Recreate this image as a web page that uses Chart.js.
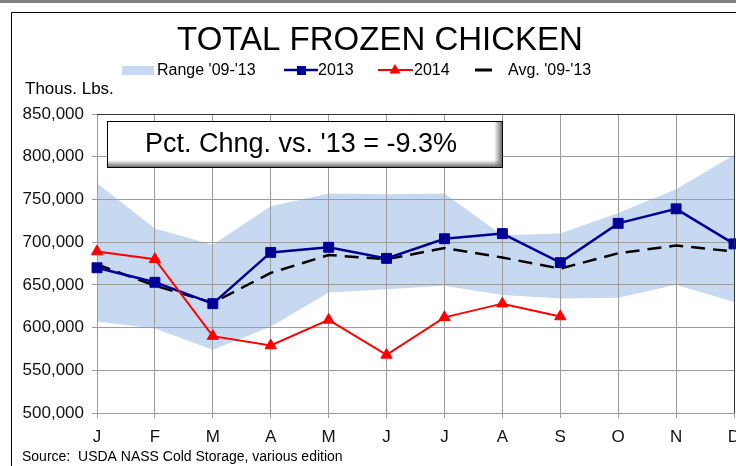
<!DOCTYPE html>
<html>
<head>
<meta charset="utf-8">
<script src="https://cdn.jsdelivr.net/npm/chart.js@4/dist/chart.umd.min.js"></script>
<style>
  html, body { margin: 0; padding: 0; background: #fff; overflow: hidden; }
  canvas { display: block; background: #fff; }
</style>
</head>
<body>
<canvas id="chickenChart" width="752" height="466"></canvas>
<script>
// data, thousand lbs
const months = ['J', 'F', 'M', 'A', 'M', 'J', 'J', 'A', 'S', 'O', 'N', 'D'];
const rangeHigh = [769000, 716000, 697000, 742000, 757000, 756000, 757000, 708000, 710000, 734000, 762000, 802000];
const rangeLow = [607000, 599000, 574000, 601000, 641000, 645000, 649000, 638000, 634000, 635000, 650000, 630000];
const values2013 = [670000, 653000, 628000, 688000, 694000, 681000, 704000, 710000, 676000, 722000, 739000, 698000];
const values2014 = [689000, 680000, 590000, 579000, 609000, 568000, 612000, 628000, 613000];
const avg0913 = [674000, 649000, 629000, 664000, 685000, 680000, 693000, 682000, 669000, 687000, 696000, 689000];
const yTicks = [500000, 550000, 600000, 650000, 700000, 750000, 800000, 850000];

const FONT = "'Liberation Sans', Arial, sans-serif";
const NAVY = '#000099';
const RED = '#ff0000';
const RANGE_FILL = '#c6d9f1';
const GRID = '#9c9c9c';

// grid again on top of the range band, then title, legend, notes and frames
const decor = {
  id: 'decor',
  beforeDatasetsDraw(chart) {
    chart.scales.x.drawGrid(chart.chartArea);
    chart.scales.y.drawGrid(chart.chartArea);
  },
  afterDraw(chart) {
    const c = chart.ctx;
    const area = chart.chartArea;
    c.save();

    // outer frames
    c.fillStyle = '#808080';
    c.fillRect(0, 0, 752, 3);
    c.strokeStyle = '#000';
    c.lineWidth = 1;
    c.beginPath();
    c.moveTo(11.5, 466);
    c.lineTo(11.5, 12.5);
    c.lineTo(752, 12.5);
    c.stroke();

    // plot top/right border
    c.strokeStyle = '#333';
    c.beginPath();
    c.moveTo(area.left, Math.round(area.top) + 0.5);
    c.lineTo(Math.round(area.right) + 0.5, Math.round(area.top) + 0.5);
    c.lineTo(Math.round(area.right) + 0.5, area.bottom);
    c.stroke();

    // title
    c.fillStyle = '#000';
    c.textAlign = 'center';
    c.textBaseline = 'middle';
    c.font = '33px ' + FONT;
    c.fillText('TOTAL FROZEN CHICKEN', 380, 41);

    // legend
    const ly = 70;
    c.font = '16px ' + FONT;
    c.textAlign = 'left';
    c.fillStyle = RANGE_FILL;
    c.fillRect(122, 66, 32, 9);
    c.fillStyle = '#000';
    c.fillText("Range '09-'13", 157, ly + 1);

    c.strokeStyle = NAVY;
    c.lineWidth = 2.5;
    c.beginPath();
    c.moveTo(284, ly);
    c.lineTo(318, ly);
    c.stroke();
    c.fillStyle = NAVY;
    c.fillRect(297, ly - 4, 9, 9);
    c.fillStyle = '#000';
    c.fillText('2013', 318, ly + 1);

    c.strokeStyle = RED;
    c.lineWidth = 2;
    c.beginPath();
    c.moveTo(378, ly);
    c.lineTo(413, ly);
    c.stroke();
    c.fillStyle = RED;
    c.beginPath();
    c.moveTo(395, ly - 6);
    c.lineTo(400.5, ly + 3.5);
    c.lineTo(389.5, ly + 3.5);
    c.closePath();
    c.fill();
    c.fillStyle = '#000';
    c.fillText('2014', 414, ly + 1);

    c.strokeStyle = '#000';
    c.lineWidth = 3;
    c.beginPath();
    c.moveTo(475, ly);
    c.lineTo(492, ly);
    c.stroke();
    c.fillText("Avg. '09-'13", 508, ly + 1);

    // unit label and source
    c.font = '17px ' + FONT;
    c.fillText('Thous. Lbs.', 25, 89);
    c.font = '14px ' + FONT;
    c.fillText('Source:  USDA NASS Cold Storage, various edition', 22, 457);

    // pct change box
    const bx = 107, by = 121, bw = 395, bh = 46;
    c.fillStyle = '#fff';
    c.fillRect(bx, by, bw, bh);
    let g = c.createLinearGradient(bx + bw - 8, 0, bx + bw, 0);
    g.addColorStop(0, 'rgba(120,120,120,0)');
    g.addColorStop(1, 'rgba(110,110,110,1)');
    c.fillStyle = g;
    c.fillRect(bx + bw - 8, by, 8, bh);
    g = c.createLinearGradient(0, by + bh - 7, 0, by + bh);
    g.addColorStop(0, 'rgba(120,120,120,0)');
    g.addColorStop(1, 'rgba(110,110,110,1)');
    c.fillStyle = g;
    c.fillRect(bx, by + bh - 7, bw, 7);
    c.strokeStyle = '#000';
    c.lineWidth = 1;
    c.strokeRect(bx + 0.5, by + 0.5, bw, bh);
    c.fillStyle = '#000';
    c.font = '27px ' + FONT;
    c.textAlign = 'center';
    c.fillText("Pct. Chng. vs. '13 = -9.3%", 301, 145);

    c.restore();
  }
};

const ctx = document.getElementById('chickenChart').getContext('2d');
const chickenChart = new Chart(ctx, {
  type: 'line',
  data: {
    labels: months,
    datasets: [
      {
        label: "Range '09-'13",
        data: rangeHigh,
        borderWidth: 0,
        pointRadius: 0,
        backgroundColor: RANGE_FILL,
        fill: '+1',
        tension: 0,
        order: 5
      },
      {
        label: 'range low',
        data: rangeLow,
        borderWidth: 0,
        pointRadius: 0,
        fill: false,
        order: 5
      },
      {
        label: "Avg. '09-'13",
        data: avg0913,
        borderColor: '#000',
        borderWidth: 2.5,
        borderDash: [14, 8],
        pointRadius: 0,
        fill: false,
        order: 3
      },
      {
        label: '2013',
        data: values2013,
        borderColor: NAVY,
        backgroundColor: NAVY,
        borderWidth: 2.5,
        pointStyle: 'rect',
        pointRadius: 7,
        pointBorderWidth: 1,
        fill: false,
        order: 2
      },
      {
        label: '2014',
        data: values2014,
        borderColor: RED,
        backgroundColor: RED,
        borderWidth: 2,
        pointStyle: 'triangle',
        pointRadius: 6.5,
        pointBorderWidth: 1,
        fill: false,
        order: 1
      }
    ]
  },
  options: {
    responsive: false,
    animation: false,
    devicePixelRatio: 1,
    layout: { padding: { top: 114, left: 0, right: 18, bottom: 0 } },
    scales: {
      x: {
        offset: false,
        grid: { color: GRID, tickLength: 5 },
        border: { color: '#8c8c8c' },
        ticks: { color: '#111', font: { family: FONT, size: 17 }, padding: 9, maxRotation: 0, autoSkip: false },
        afterFit(scale) {
          scale.height = 53;
          scale.paddingLeft = 0;
          scale.paddingRight = 0;
        }
      },
      y: {
        min: 500000,
        max: 850000,
        afterBuildTicks(scale) {
          scale.ticks = yTicks.map(v => ({ value: v }));
        },
        grid: { color: GRID, tickLength: 5 },
        border: { color: '#8c8c8c' },
        ticks: {
          color: '#111',
          font: { family: FONT, size: 17 },
          padding: 8,
          callback: v => v.toLocaleString('en-US')
        },
        afterFit(scale) {
          scale.width = 97;
          scale.paddingTop = 0;
          scale.paddingBottom = 0;
        }
      }
    },
    plugins: {
      filler: { drawTime: 'beforeDatasetsDraw' },
      legend: { display: false },
      title: { display: false },
      tooltip: { enabled: false }
    }
  },
  plugins: [decor]
});
</script>
</body>
</html>
